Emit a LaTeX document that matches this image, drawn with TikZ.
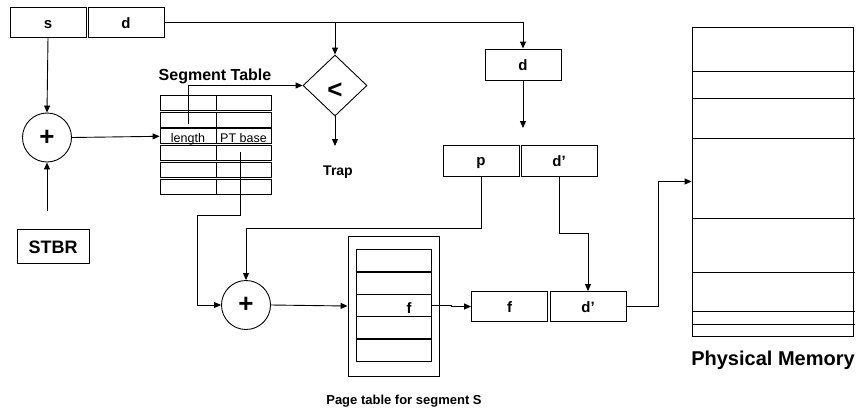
\documentclass[tikz,border=0pt]{standalone}
\usepackage{fontspec}
\setmainfont{Liberation Sans}
\usetikzlibrary{arrows.meta,shapes.geometric}
\newcommand\sz[1]{\fontsize{#1}{#1}\selectfont}
\tikzset{
  wire/.style={line width=0.9pt},
  arr/.style={wire,-{Triangle[length=7pt,width=6pt]}},
  box/.style={draw,line width=0.9pt,minimum width=76pt,minimum height=30pt,inner sep=0pt,
    text height=12pt,text depth=0pt,font=\sz{15}\bfseries},
  adder/.style={draw,circle,line width=0.9pt,minimum size=49pt,inner sep=0pt,font=\sz{26}\bfseries},
  cellL/.style={draw,line width=0.8pt,minimum width=56pt,minimum height=15pt,inner sep=0pt,
    text height=11.4pt,text depth=0pt,font=\sz{12.5}},
  cellR/.style={cellL,minimum width=55pt},
  prow/.style={draw,line width=0.9pt,minimum width=75pt,minimum height=22.5pt,inner sep=0pt},
  caption/.style={inner sep=0pt,anchor=base}
}
\begin{document}
\begin{tikzpicture}[x=1pt,y=-1pt]
\useasboundingbox (0,0) rectangle (868,410);

% logical address
\node[box] (s) at (48,22) {s};
\node[box] (d) at (126,22) {d};

% limit check
\node[draw,diamond,line width=0.9pt,minimum width=64pt,minimum height=61pt,inner sep=0pt,
  text height=26.8pt,text depth=0pt,font=\sz{26}\bfseries] (cmp) at (335,85.5) {<};
\coordinate (trapend) at (335,146);
\node[caption,font=\sz{14}\bfseries] (trap) at (338,175) {Trap};

% segment table
\node[caption,font=\sz{16}\bfseries] (segtitle) at (215,80) {Segment Table};
\foreach \i/\t in {1/95,2/111.9,4/145.7,5/162.6,6/179.5}{
  \node[cellL] (sl\i) at (188,\t+7.5) {};
  \node[cellR] (sr\i) at (243.5,\t+7.5) {};
}
\node[cellL] (lencell) at (188,136.3) {length};
\node[cellR] (ptcell) at (243.5,136.3) {PT base};

% segment table base register
\node[adder] (plus1) at (47,137.5) {+};
\node[box,minimum width=72pt,minimum height=34pt,text height=14pt,font=\sz{18}\bfseries] (stbr) at (53,246) {STBR};
\coordinate (stbrtop) at (47,211);

% offset within segment
\node[box,minimum height=31pt] (dmid) at (523,64.5) {d};
\coordinate (dmidend) at (523,128);
\node[box,minimum height=31pt,text height=10pt] (p) at (481,160.5) {p};
\node[box,minimum height=31pt] (dp1) at (559,160.5) {d’};

% page table
\node[adder] (plus2) at (246,305) {+};
\node[draw,line width=0.9pt,minimum width=91pt,minimum height=140pt,inner sep=0pt] (ptab) at (393.5,306) {};
\node[prow] (pr1) at (393.5,260.5) {};
\node[prow] (pr2) at (393.5,283) {};
\node[prow] (frow) at (393.5,305.5) {};
\node[prow] (pr4) at (393.5,328) {};
\node[prow] (pr5) at (393.5,350) {};
\draw[line width=1.6pt] (pr1.south west) -- (pr1.south east)
  (pr4.north west) -- (pr4.north east) (pr5.north west) -- (pr5.north east);
\node[caption,font=\sz{15}\bfseries] (flabel) at (409,313) {f};
\node[caption,font=\sz{13}\bfseries] (ptcap) at (404,404.5) {Page table for segment S};

% physical address
\node[box] (fbox) at (509.5,306.5) {f};
\node[box] (dp2) at (588,306.5) {d’};

% physical memory
\node[draw,line width=0.9pt,minimum width=161pt,minimum height=309pt,inner sep=0pt] (mem) at (772.5,181.5) {};
\foreach \y in {71,98,138,218,272,311,324}{
  \draw[wire] (692,\y) -- (855,\y);
}
\node[caption,font=\sz{20}\bfseries] (memcap) at (773,365) {Physical Memory};

% connectors
\coordinate (tap) at (335,22);
\draw[arr] (d.east) -| (dmid.north);
\draw[arr] (tap) -- (cmp.north);
\draw[arr] (s.south) -- (plus1.north);
\draw[arr] (stbrtop) -- (plus1.south);
\draw[arr] (plus1.east) -- (lencell.west);
\draw[arr] ([yshift=4pt]lencell.north) |- (cmp.west);
\draw[arr] (cmp.south) -- (trapend);
\draw[arr] (dmid.south) -- (dmidend);

\coordinate (b1) at (197,215);
\draw[arr] ([shift={(-3,8)}]ptcell.south) |- (b1) |- (plus2.west);
\coordinate (b2) at (246,228);
\draw[arr] (p.south) |- (b2) -- (plus2.north);
\coordinate (b3) at (588,233);
\draw[arr] (dp1.south) |- (b3) -- (dp2.north);
\draw[arr] (plus2.east) -- (ptab.west);
\coordinate (b5) at (451,305.5);
\draw[arr] (frow.east) -- (b5) |- (fbox.west);
\coordinate (b4) at (658,181.5);
\draw[arr] (dp2.east) -| (b4) -- (mem.west);
\end{tikzpicture}
\end{document}
